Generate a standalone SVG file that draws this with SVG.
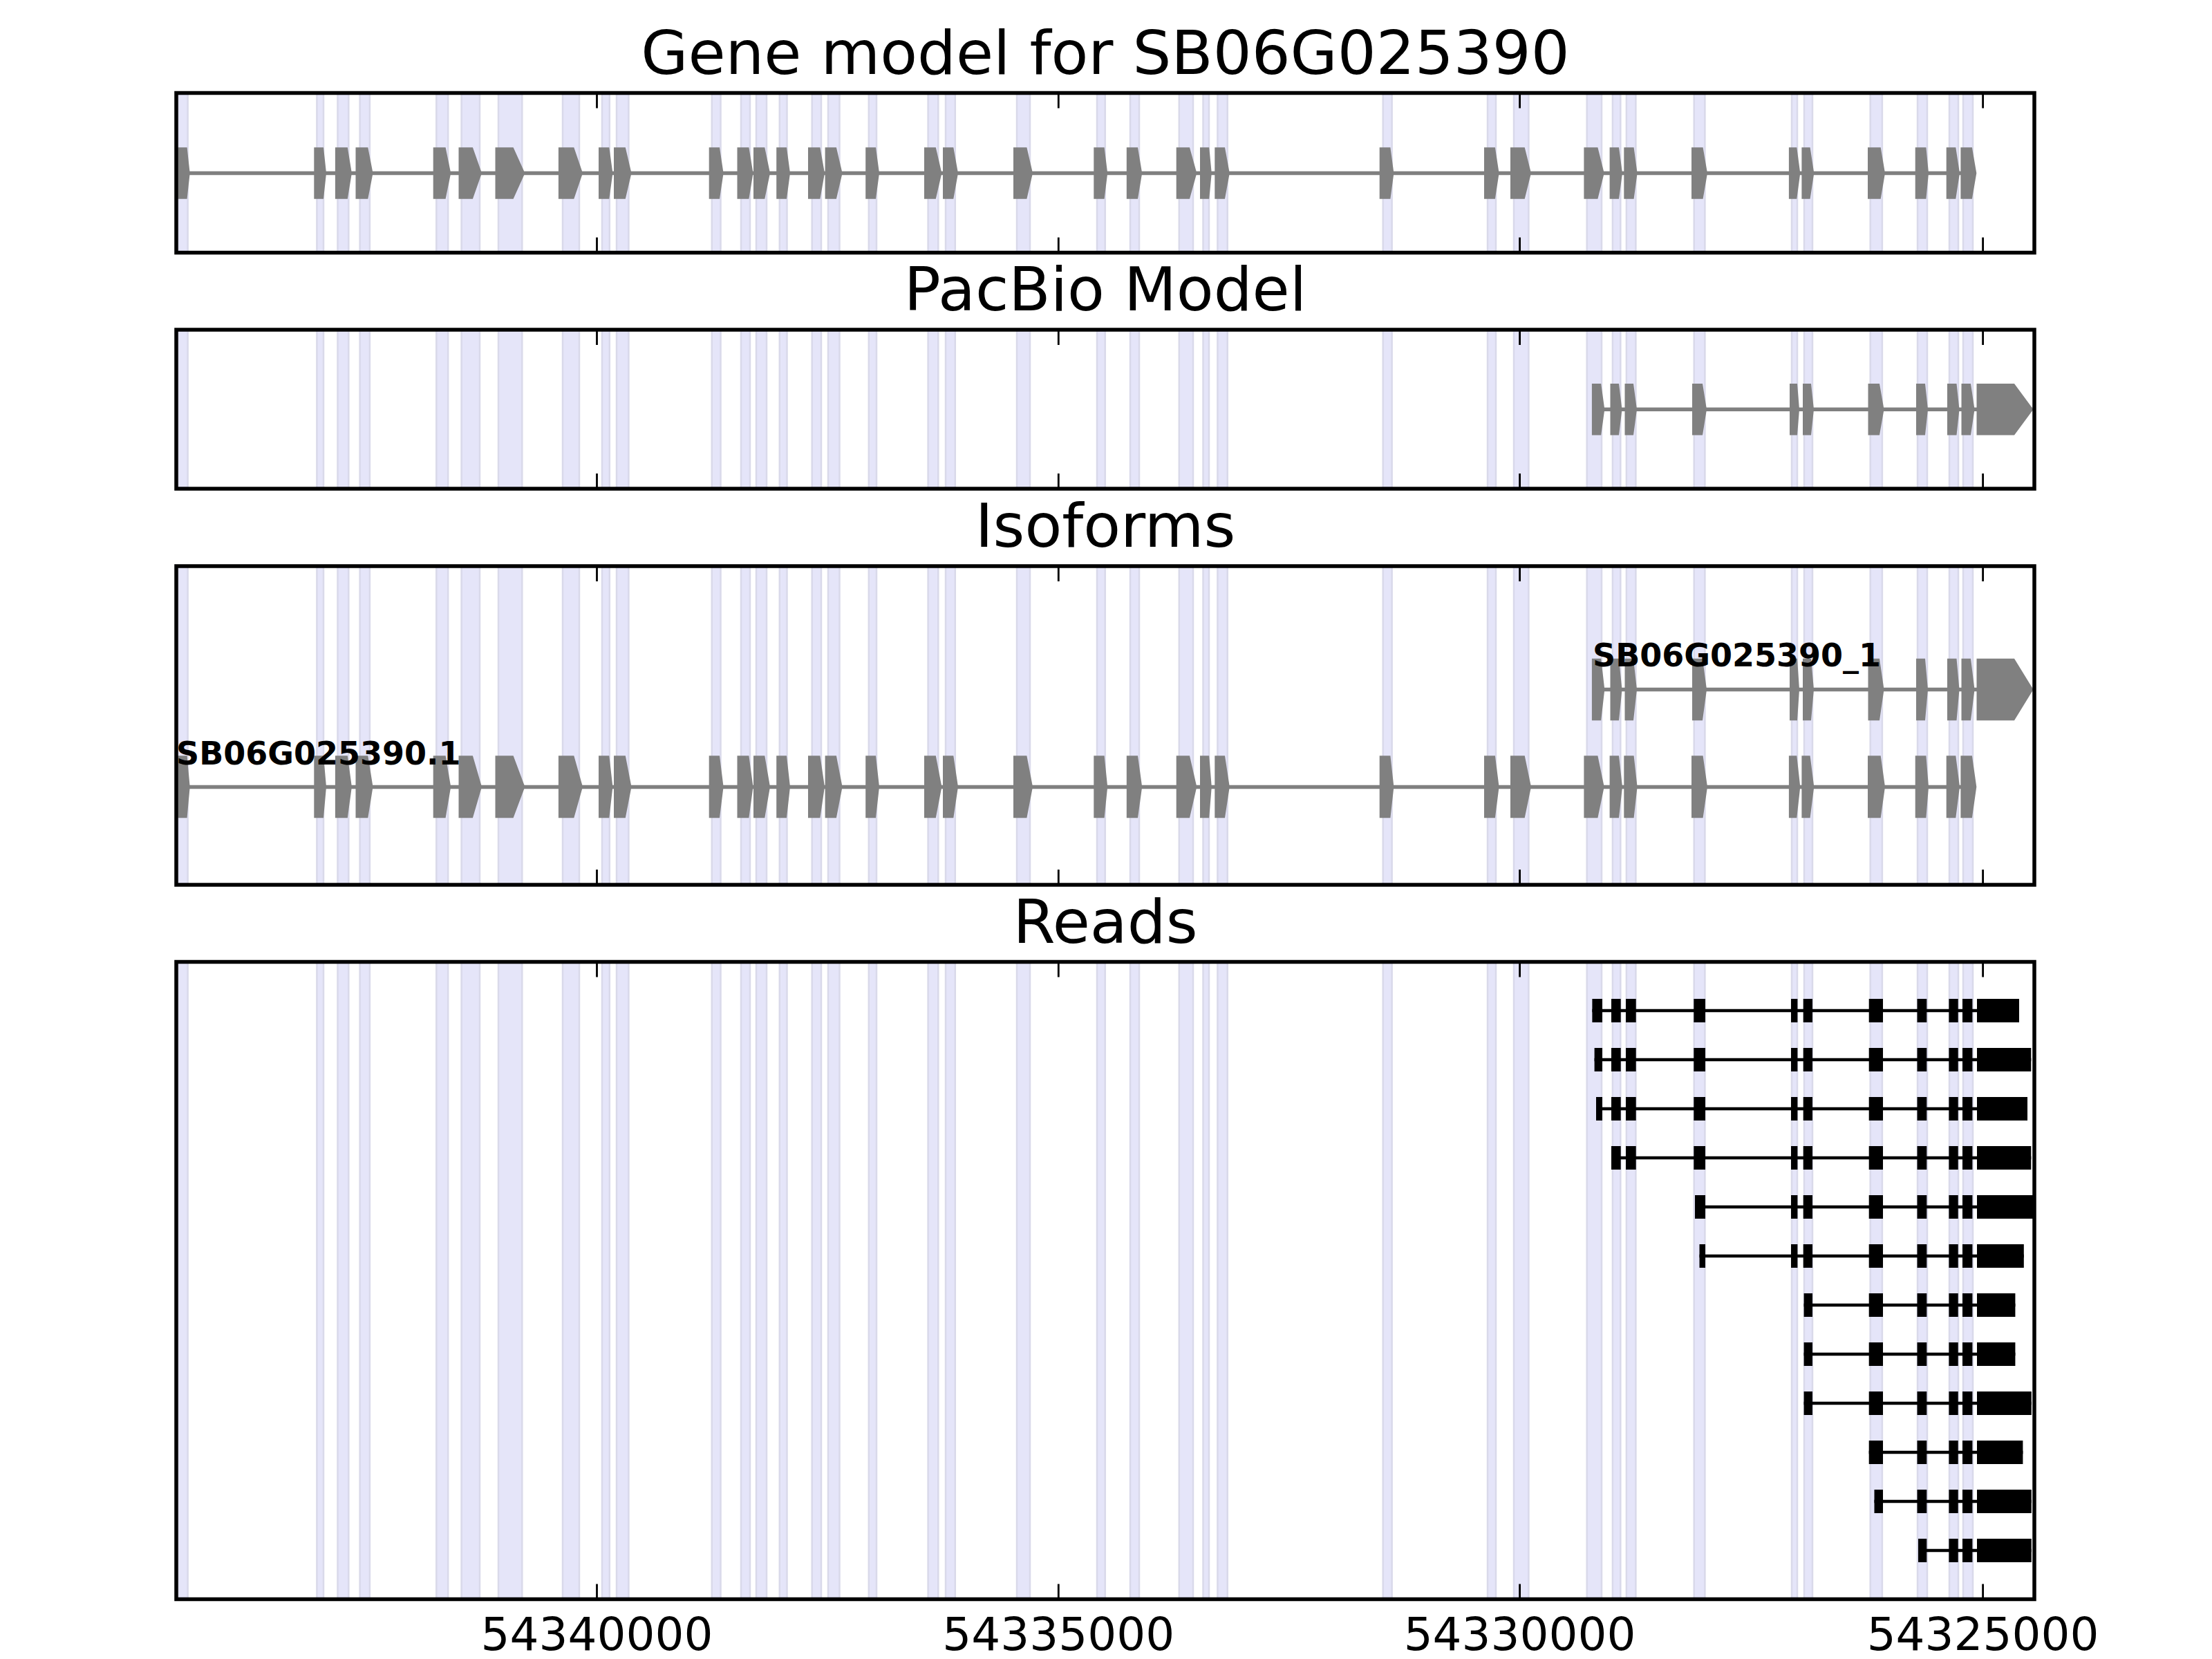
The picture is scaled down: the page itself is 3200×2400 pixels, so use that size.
<svg xmlns="http://www.w3.org/2000/svg" width="3200" height="2400" viewBox="0 0 3200 2400">
<style>
.title{font-family:"DejaVu Sans","Liberation Sans",sans-serif;font-size:88px;text-anchor:middle;fill:#000}
.tl{font-family:"DejaVu Sans","Liberation Sans",sans-serif;font-size:66px;text-anchor:middle;fill:#000}
.lab{font-family:"DejaVu Sans","Liberation Sans",sans-serif;font-size:46px;font-weight:bold;fill:#000}
.band{fill:#e5e5f9;stroke:#d9d9ea;stroke-width:2.5}
.frame{fill:none;stroke:#000;stroke-width:5.5}
.tick{fill:none;stroke:#000;stroke-width:2.8}
.ex{fill:#808080}
.intr{stroke:#808080;stroke-width:5.5}
.rd{fill:#000}
.rl{stroke:#000;stroke-width:4.5}
</style>
<defs>
<clipPath id="panels">
<rect x="255" y="134.5" width="2688" height="231"/>
<rect x="255" y="477" width="2688" height="230"/>
<rect x="255" y="819" width="2688" height="461"/>
<rect x="255" y="1391.5" width="2688" height="922"/>
</clipPath>
<path id="gm" class="ex" d="M255-1H270.6L274.7 0L270.6 1H255Z M454.3-1H468L472 0L468 1H454.3Z M484.9-1H502.8L508.9 0L502.8 1H484.9Z M514.5-1H532.3L539.5 0L532.3 1H514.5Z M626.7-1H644.6L652.2 0L644.6 1H626.7Z M663.5-1H683.9L697 0L683.9 1H663.5Z M716.5-1H742.6L759.4 0L742.6 1H716.5Z M807.9-1H830.3L843 0L830.3 1H807.9Z M866-1H881.3L886.4 0L881.3 1H866Z M888-1H904.8L913.5 0L904.8 1H888Z M1025.7-1H1041L1046.6 0L1041 1H1025.7Z M1066.5-1H1083.4L1089.5 0L1083.4 1H1066.5Z M1090-1H1106.3L1114 0L1106.3 1H1090Z M1123.2-1H1138L1143 0L1138 1H1123.2Z M1169-1H1186.4L1193 0L1186.4 1H1169Z M1193.6-1H1209.9L1218.6 0L1209.9 1H1193.6Z M1252.2-1H1267L1272 0L1267 1H1252.2Z M1337-1H1353.8L1362.4 0L1353.8 1H1337Z M1364-1H1379.3L1386 0L1379.3 1H1364Z M1466-1H1485.4L1494 0L1485.4 1H1466Z M1582.3-1H1597.6L1602.2 0L1597.6 1H1582.3Z M1629.8-1H1646L1652.2 0L1646 1H1629.8Z M1701.7-1H1721L1731.3 0L1721 1H1701.7Z M1736-1H1749.2L1752.8 0L1749.2 1H1736Z M1757.3-1H1772L1778.8 0L1772 1H1757.3Z M1995.7-1H2011.4L2016.4 0L2011.4 1H1995.7Z M2147-1H2162.9L2168.6 0L2162.9 1H2147Z M2185-1H2205.7L2215 0L2205.7 1H2185Z M2291.4-1H2311.4L2320.7 0L2311.4 1H2291.4Z M2328.6-1H2342L2347 0L2342 1H2328.6Z M2349.3-1H2363.6L2368.6 0L2363.6 1H2349.3Z M2447-1H2463.6L2470 0L2463.6 1H2447Z M2587.9-1H2599.3L2604.3 0L2599.3 1H2587.9Z M2606.4-1H2618.6L2624.3 0L2618.6 1H2606.4Z M2702-1H2720.7L2727 0L2720.7 1H2702Z M2770.7-1H2786.4L2790 0L2786.4 1H2770.7Z M2815.7-1H2829.3L2835 0L2829.3 1H2815.7Z M2836.4-1H2852.9L2859.3 0L2852.9 1H2836.4Z"/>
<path id="pb" class="ex" d="M2302.9-1H2316.2L2321.3 0L2316.2 1H2302.9Z M2329.5-1H2342L2346.5 0L2342 1H2329.5Z M2350.5-1H2363L2368 0L2363 1H2350.5Z M2448-1H2463L2469 0L2463 1H2448Z M2589-1H2600L2603 0L2600 1H2589Z M2608-1H2620L2624 0L2620 1H2608Z M2702.5-1H2719L2725.5 0L2719 1H2702.5Z M2772-1H2785L2789 0L2785 1H2772Z M2817-1H2830.5L2834.5 0L2830.5 1H2817Z M2837.5-1H2851L2856.5 0L2851 1H2837.5Z M2859.5-1H2914L2941.5 0L2914 1H2859.5Z"/>
</defs>
<rect x="0" y="0" width="3200" height="2400" fill="#fff"/>
<g id="bands" clip-path="url(#panels)">
<rect class="band" x="257.9" y="120" width="13.7" height="2210"/>
<rect class="band" x="458.4" y="120" width="9.6" height="2210"/>
<rect class="band" x="488.5" y="120" width="15.8" height="2210"/>
<rect class="band" x="520.6" y="120" width="14.3" height="2210"/>
<rect class="band" x="631.3" y="120" width="16.9" height="2210"/>
<rect class="band" x="667.6" y="120" width="26.4" height="2210"/>
<rect class="band" x="721" y="120" width="34.3" height="2210"/>
<rect class="band" x="814" y="120" width="24" height="2210"/>
<rect class="band" x="871" y="120" width="10.8" height="2210"/>
<rect class="band" x="892" y="120" width="17.4" height="2210"/>
<rect class="band" x="1029.8" y="120" width="12.7" height="2210"/>
<rect class="band" x="1072" y="120" width="13" height="2210"/>
<rect class="band" x="1094" y="120" width="15" height="2210"/>
<rect class="band" x="1127.8" y="120" width="10.7" height="2210"/>
<rect class="band" x="1174.7" y="120" width="13.3" height="2210"/>
<rect class="band" x="1198" y="120" width="16.5" height="2210"/>
<rect class="band" x="1256.8" y="120" width="11.2" height="2210"/>
<rect class="band" x="1342.6" y="120" width="14.7" height="2210"/>
<rect class="band" x="1368" y="120" width="13.8" height="2210"/>
<rect class="band" x="1471" y="120" width="19" height="2210"/>
<rect class="band" x="1587" y="120" width="11.7" height="2210"/>
<rect class="band" x="1635" y="120" width="13" height="2210"/>
<rect class="band" x="1705.8" y="120" width="20.2" height="2210"/>
<rect class="band" x="1740.5" y="120" width="8.5" height="2210"/>
<rect class="band" x="1761.4" y="120" width="14.3" height="2210"/>
<rect class="band" x="2000.7" y="120" width="12.9" height="2210"/>
<rect class="band" x="2152" y="120" width="12" height="2210"/>
<rect class="band" x="2190" y="120" width="21.4" height="2210"/>
<rect class="band" x="2295.7" y="120" width="21.3" height="2210"/>
<rect class="band" x="2332.9" y="120" width="11.4" height="2210"/>
<rect class="band" x="2352.9" y="120" width="13.5" height="2210"/>
<rect class="band" x="2450.7" y="120" width="15.7" height="2210"/>
<rect class="band" x="2592" y="120" width="8" height="2210"/>
<rect class="band" x="2610" y="120" width="12" height="2210"/>
<rect class="band" x="2705.7" y="120" width="17.2" height="2210"/>
<rect class="band" x="2774" y="120" width="14" height="2210"/>
<rect class="band" x="2820" y="120" width="13" height="2210"/>
<rect class="band" x="2840" y="120" width="14" height="2210"/>
</g>
<g id="panel-gene-model">
<line class="intr" x1="257" y1="250.5" x2="2856" y2="250.5"/>
<use href="#gm" transform="translate(0 250.5) scale(1 37.2)"/>
</g>
<g id="panel-pacbio">
<line class="intr" x1="2303" y1="592.2" x2="2940" y2="592.2"/>
<use href="#pb" transform="translate(0 592.2) scale(1 37.2)"/>
</g>
<g id="panel-isoforms">
<line class="intr" x1="2303" y1="997.5" x2="2940" y2="997.5"/>
<use href="#pb" transform="translate(0 997.5) scale(1 44.8)"/>
<line class="intr" x1="257" y1="1138.5" x2="2856" y2="1138.5"/>
<use href="#gm" transform="translate(0 1138.3) scale(1 45)"/>
<text class="lab" x="255" y="1106">SB06G025390.1</text>
<text class="lab" x="2304" y="964">SB06G025390_1</text>
</g>
<g id="panel-reads">
<g id="read1" class="rd" transform="translate(0 1445)">
<line class="rl" x1="2303.4" y1="17" x2="2921" y2="17"/>
<rect x="2303.4" width="14.6" height="34"/><rect x="2331" width="13.7" height="34"/><rect x="2352" width="14.7" height="34"/><rect x="2450.3" width="16.7" height="34"/><rect x="2591" width="9.4" height="34"/><rect x="2608.7" width="13.3" height="34"/><rect x="2703.7" width="20.3" height="34"/><rect x="2773.5" width="13.8" height="34"/><rect x="2819.4" width="13.3" height="34"/><rect x="2839" width="14.4" height="34"/><rect x="2860" width="61" height="34"/>
</g>
<g id="read2" class="rd" transform="translate(0 1516)">
<line class="rl" x1="2306.6" y1="17" x2="2938.3" y2="17"/>
<rect x="2306.6" width="11.4" height="34"/><rect x="2331" width="13.7" height="34"/><rect x="2352" width="14.7" height="34"/><rect x="2450.3" width="16.7" height="34"/><rect x="2591" width="9.4" height="34"/><rect x="2608.7" width="13.3" height="34"/><rect x="2703.7" width="20.3" height="34"/><rect x="2773.5" width="13.8" height="34"/><rect x="2819.4" width="13.3" height="34"/><rect x="2839" width="14.4" height="34"/><rect x="2860" width="78.3" height="34"/>
</g>
<g id="read3" class="rd" transform="translate(0 1587)">
<line class="rl" x1="2309" y1="17" x2="2933" y2="17"/>
<rect x="2309" width="9" height="34"/><rect x="2331" width="13.7" height="34"/><rect x="2352" width="14.7" height="34"/><rect x="2450.3" width="16.7" height="34"/><rect x="2591" width="9.4" height="34"/><rect x="2608.7" width="13.3" height="34"/><rect x="2703.7" width="20.3" height="34"/><rect x="2773.5" width="13.8" height="34"/><rect x="2819.4" width="13.3" height="34"/><rect x="2839" width="14.4" height="34"/><rect x="2860" width="73" height="34"/>
</g>
<g id="read4" class="rd" transform="translate(0 1658)">
<line class="rl" x1="2331" y1="17" x2="2938.3" y2="17"/>
<rect x="2331" width="13.7" height="34"/><rect x="2352" width="14.7" height="34"/><rect x="2450.3" width="16.7" height="34"/><rect x="2591" width="9.4" height="34"/><rect x="2608.7" width="13.3" height="34"/><rect x="2703.7" width="20.3" height="34"/><rect x="2773.5" width="13.8" height="34"/><rect x="2819.4" width="13.3" height="34"/><rect x="2839" width="14.4" height="34"/><rect x="2860" width="78.3" height="34"/>
</g>
<g id="read5" class="rd" transform="translate(0 1729)">
<line class="rl" x1="2452" y1="17" x2="2941" y2="17"/>
<rect x="2452" width="15" height="34"/><rect x="2591" width="9.4" height="34"/><rect x="2608.7" width="13.3" height="34"/><rect x="2703.7" width="20.3" height="34"/><rect x="2773.5" width="13.8" height="34"/><rect x="2819.4" width="13.3" height="34"/><rect x="2839" width="14.4" height="34"/><rect x="2860" width="81" height="34"/>
</g>
<g id="read6" class="rd" transform="translate(0 1800)">
<line class="rl" x1="2458.5" y1="17" x2="2927.8" y2="17"/>
<rect x="2458.5" width="8.5" height="34"/><rect x="2591" width="9.4" height="34"/><rect x="2608.7" width="13.3" height="34"/><rect x="2703.7" width="20.3" height="34"/><rect x="2773.5" width="13.8" height="34"/><rect x="2819.4" width="13.3" height="34"/><rect x="2839" width="14.4" height="34"/><rect x="2860" width="67.8" height="34"/>
</g>
<g id="read7" class="rd" transform="translate(0 1871)">
<line class="rl" x1="2609.6" y1="17" x2="2915.4" y2="17"/>
<rect x="2609.6" width="12.4" height="34"/><rect x="2703.7" width="20.3" height="34"/><rect x="2773.5" width="13.8" height="34"/><rect x="2819.4" width="13.3" height="34"/><rect x="2839" width="14.4" height="34"/><rect x="2860" width="55.4" height="34"/>
</g>
<g id="read8" class="rd" transform="translate(0 1942)">
<line class="rl" x1="2609.6" y1="17" x2="2915.4" y2="17"/>
<rect x="2609.6" width="12.4" height="34"/><rect x="2703.7" width="20.3" height="34"/><rect x="2773.5" width="13.8" height="34"/><rect x="2819.4" width="13.3" height="34"/><rect x="2839" width="14.4" height="34"/><rect x="2860" width="55.4" height="34"/>
</g>
<g id="read9" class="rd" transform="translate(0 2013)">
<line class="rl" x1="2609.6" y1="17" x2="2938.8" y2="17"/>
<rect x="2609.6" width="12.4" height="34"/><rect x="2703.7" width="20.3" height="34"/><rect x="2773.5" width="13.8" height="34"/><rect x="2819.4" width="13.3" height="34"/><rect x="2839" width="14.4" height="34"/><rect x="2860" width="78.8" height="34"/>
</g>
<g id="read10" class="rd" transform="translate(0 2084)">
<line class="rl" x1="2703.7" y1="17" x2="2926.4" y2="17"/>
<rect x="2703.7" width="20.3" height="34"/><rect x="2773.5" width="13.8" height="34"/><rect x="2819.4" width="13.3" height="34"/><rect x="2839" width="14.4" height="34"/><rect x="2860" width="66.4" height="34"/>
</g>
<g id="read11" class="rd" transform="translate(0 2155)">
<line class="rl" x1="2711.5" y1="17" x2="2938.8" y2="17"/>
<rect x="2711.5" width="12.5" height="34"/><rect x="2773.5" width="13.8" height="34"/><rect x="2819.4" width="13.3" height="34"/><rect x="2839" width="14.4" height="34"/><rect x="2860" width="78.8" height="34"/>
</g>
<g id="read12" class="rd" transform="translate(0 2226)">
<line class="rl" x1="2775" y1="17" x2="2938.8" y2="17"/>
<rect x="2775" width="12.3" height="34"/><rect x="2819.4" width="13.3" height="34"/><rect x="2839" width="14.4" height="34"/><rect x="2860" width="78.8" height="34"/>
</g>
</g>
<g id="axes">
<rect class="frame" x="255" y="134.5" width="2688" height="231"/>
<rect class="frame" x="255" y="477" width="2688" height="230"/>
<rect class="frame" x="255" y="819" width="2688" height="461"/>
<rect class="frame" x="255" y="1391.5" width="2688" height="922"/>
<path class="tick" d="M863.5 134.5v22M1531.3 134.5v22M2198.6 134.5v22M2868.6 134.5v22M863.5 365.5v-22M1531.3 365.5v-22M2198.6 365.5v-22M2868.6 365.5v-22"/>
<path class="tick" d="M863.5 477v22M1531.3 477v22M2198.6 477v22M2868.6 477v22M863.5 707v-22M1531.3 707v-22M2198.6 707v-22M2868.6 707v-22"/>
<path class="tick" d="M863.5 819v22M1531.3 819v22M2198.6 819v22M2868.6 819v22M863.5 1280v-22M1531.3 1280v-22M2198.6 1280v-22M2868.6 1280v-22"/>
<path class="tick" d="M863.5 1391.5v22M1531.3 1391.5v22M2198.6 1391.5v22M2868.6 1391.5v22M863.5 2313.5v-22M1531.3 2313.5v-22M2198.6 2313.5v-22M2868.6 2313.5v-22"/>
<text class="tl" x="863.5" y="2387">54340000</text>
<text class="tl" x="1531.3" y="2387">54335000</text>
<text class="tl" x="2198.6" y="2387">54330000</text>
<text class="tl" x="2868.6" y="2387">54325000</text>
</g>
<g id="titles">
<text class="title" x="1599" y="107">Gene model for SB06G025390</text>
<text class="title" x="1599" y="449">PacBio Model</text>
<text class="title" x="1599" y="791">Isoforms</text>
<text class="title" x="1599" y="1364">Reads</text>
</g>
</svg>
